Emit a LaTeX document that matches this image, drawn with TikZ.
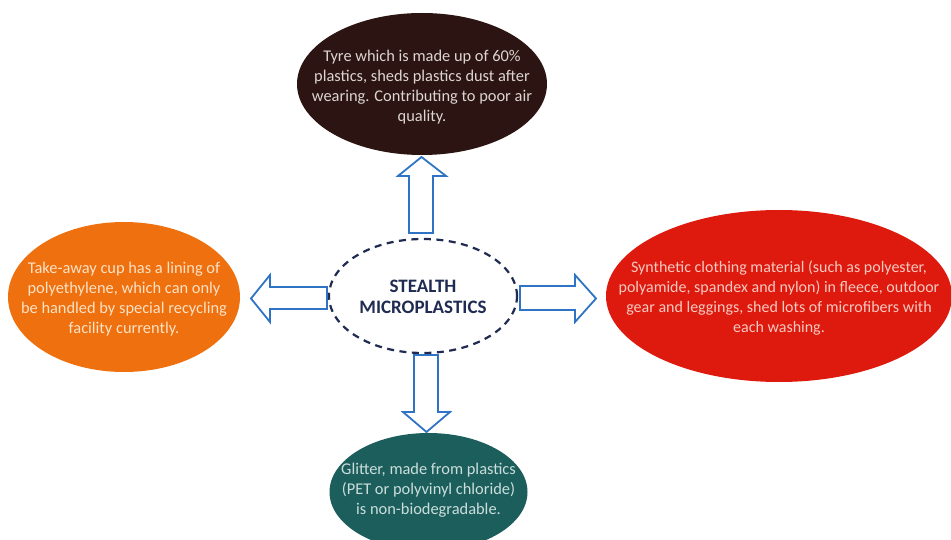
\documentclass[tikz,border=0pt]{standalone}
\usepackage{fontspec}
\setmainfont{Carlito}
\usetikzlibrary{shapes.geometric}
\definecolor{tyrefill}{HTML}{2B1412}
\definecolor{tyretext}{HTML}{DDD5D0}
\definecolor{cupfill}{HTML}{EF700E}
\definecolor{cuptext}{HTML}{FDE2C6}
\definecolor{clothfill}{HTML}{DE1A0E}
\definecolor{clothtext}{HTML}{F6C9C1}
\definecolor{glitfill}{HTML}{1C5E5C}
\definecolor{glittext}{HTML}{CBDEDC}
\definecolor{navy}{HTML}{1F2B52}
\definecolor{arrowblue}{HTML}{2F74C4}
\tikzset{
  blob/.style={ellipse, inner sep=0pt, outer sep=0pt},
  blobtext/.style={align=center, font=\fontsize{16.4}{20.2}\selectfont, inner sep=0pt},
  blockarrow/.style={draw=arrowblue, fill=white, line width=1.8pt, line join=miter},
}
\begin{document}
\begin{tikzpicture}[x=1pt,y=-1pt]
\useasboundingbox[fill=white] (0,0) rectangle (951,540);
% center
\node[blob, draw=navy, line width=2.2pt, dash pattern=on 7pt off 5.5pt,
      minimum width=188pt, minimum height=114pt] (c) at (423,296) {};
\node[align=center, font=\fontsize{19}{21}\selectfont\bfseries, text=navy, inner sep=0pt] (ct) at ([yshift=-1pt]c.center) {STEALTH\\MICROPLASTICS};
% top
\node[blob, fill=tyrefill, minimum width=250pt, minimum height=142pt] (t) at (422,84) {};
\node[blobtext, text=tyretext] (tt) at ([yshift=-3pt]t.center) {Tyre which is made up of 60\%\\plastics, sheds plastics dust after\\wearing. Contributing to poor air\\quality.};
% left
\node[blob, fill=cupfill, minimum width=232pt, minimum height=150pt] (l) at (124,297) {};
\node[blobtext, text=cuptext] (lt) at ([yshift=-2pt]l.center) {Take-away cup has a lining of\\polyethylene, which can only\\be handled by special recycling\\facility currently.};
% right
\node[blob, fill=clothfill, minimum width=346pt, minimum height=172pt] (r) at (779,296) {};
\node[blobtext, font=\fontsize{16}{20.2}\selectfont, text=clothtext] (rt) at ([yshift=-2pt]r.center) {Synthetic clothing material (such as polyester,\\polyamide, spandex and nylon) in fleece, outdoor\\gear and leggings, shed lots of microfibers with\\each washing.};
% bottom
\node[blob, fill=glitfill, minimum width=198pt, minimum height=118pt] (b) at (428.5,492) {};
\node[blobtext, text=glittext] (bt) at (428.5,490) {Glitter, made from plastics\\(PET or polyvinyl chloride)\\is non-biodegradable.};
% arrows
\draw[blockarrow] (409,233) -- (409,176) -- (398,176) -- (421.5,157) -- (446,176) -- (433,176) -- (433,233) -- cycle;
\draw[blockarrow] (414,355) -- (414,412) -- (403,412) -- (426.5,432) -- (450,412) -- (438,412) -- (438,355) -- cycle;
\draw[blockarrow] (327,287) -- (270,287) -- (270,275) -- (251,298.5) -- (270,322) -- (270,309) -- (327,309) -- cycle;
\draw[blockarrow] (520,286) -- (575,286) -- (575,275) -- (596,298.5) -- (575,322) -- (575,310) -- (520,310) -- cycle;
\end{tikzpicture}
\end{document}
